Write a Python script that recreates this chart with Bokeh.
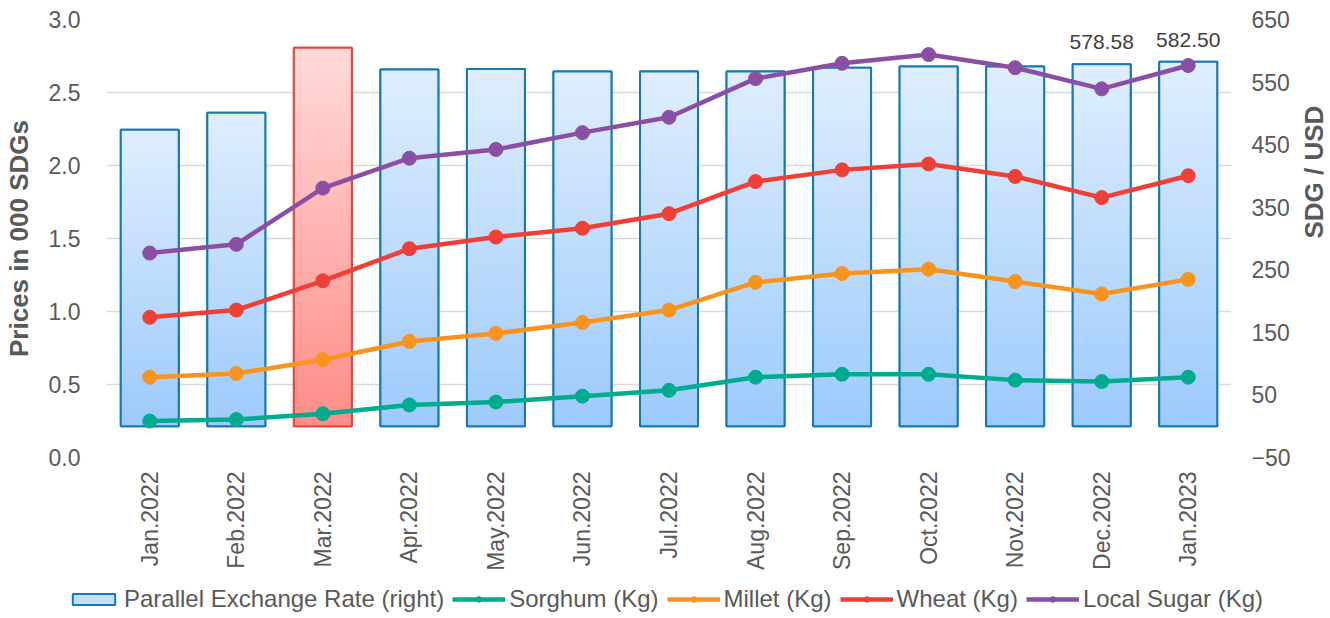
import numpy as np
from math import pi
from bokeh.plotting import figure
from bokeh.layouts import column
from bokeh.models import (Range1d, LinearAxis, Legend, LegendItem, FixedTicker,
                          PrintfTickFormatter)
from bokeh.core.properties import value
from bokeh.embed import file_html
from bokeh.resources import INLINE

months = ["Jan.2022", "Feb.2022", "Mar.2022", "Apr.2022", "May.2022", "Jun.2022", "Jul.2022",
          "Aug.2022", "Sep.2022", "Oct.2022", "Nov.2022", "Dec.2022", "Jan.2023"]
exchange_rate = [474, 501, 605, 570, 571, 567, 567, 567, 573, 575, 575, 578.58, 582.50]
sorghum = [0.25, 0.26, 0.30, 0.36, 0.38, 0.42, 0.46, 0.55, 0.57, 0.57, 0.53, 0.52, 0.55]
millet = [0.55, 0.575, 0.67, 0.795, 0.85, 0.925, 1.01, 1.20, 1.26, 1.29, 1.205, 1.12, 1.22]
wheat = [0.96, 1.01, 1.21, 1.43, 1.51, 1.57, 1.67, 1.89, 1.97, 2.01, 1.925, 1.78, 1.93]
sugar = [1.40, 1.46, 1.845, 2.05, 2.11, 2.225, 2.33, 2.595, 2.70, 2.76, 2.67, 2.525, 2.685]
left_ticks = [0.0, 0.5, 1.0, 1.5, 2.0, 2.5, 3.0]
right_ticks = [-50, 50, 150, 250, 350, 450, 550, 650]
highlight_month = "Mar.2022"
labelled_months = ["Dec.2022", "Jan.2023"]

FONT = "Liberation Sans"
GREY = "#595959"
BAR_LINE = "#1478B4"
BAR_FILL = "#C4DFFC"

p = figure(x_range=months, y_range=Range1d(0, 3.0), frame_width=1125, frame_height=438,
           output_backend="svg", toolbar_location=None,
           min_border_left=106, min_border_right=99, min_border_top=19, min_border_bottom=0)
p.extra_y_ranges = {"right": Range1d(-50, 650)}
p.outline_line_color = None
p.background_fill_color = "white"

outline_cols = ["#E8453C" if m == highlight_month else BAR_LINE for m in months]
p.vbar(x=months, width=0.67, bottom=0, top=exchange_rate, fill_color=BAR_FILL,
       line_color=outline_cols, line_width=2, y_range_name="right")

# gradient bars (slices computed from the data)
N = 60
blue_top, blue_bot = np.array([0xDF, 0xEE, 0xFE]), np.array([0x9C, 0xCA, 0xFB])
red_top, red_bot = np.array([0xFF, 0xDA, 0xDA]), np.array([0xFF, 0x8C, 0x88])
xs, bots, tops, cols = [], [], [], []
for m, r in zip(months, exchange_rate):
    ct, cb = (red_top, red_bot) if m == highlight_month else (blue_top, blue_bot)
    for k in range(N):
        f = (k + 0.5) / N
        c = cb + (ct - cb) * f
        xs.append(m)
        bots.append(r * k / N)
        tops.append(min(r, r * (k + 1.3) / N))
        cols.append("#%02x%02x%02x" % tuple(int(round(v)) for v in c))
p.vbar(x=xs, width=0.67, bottom=bots, top=tops, fill_color=cols, line_color=None,
       y_range_name="right")
p.vbar(x=months, width=0.67, bottom=0, top=exchange_rate, fill_color=None,
       line_color=outline_cols, line_width=2, y_range_name="right")

# data labels
lab_x = [m for m in months if m in labelled_months]
lab_y = [r for m, r in zip(months, exchange_rate) if m in labelled_months]
lab_t = ["%.2f" % r for m, r in zip(months, exchange_rate) if m in labelled_months]
p.text(x=lab_x, y=lab_y, text=lab_t, y_range_name="right", text_align="center",
       text_baseline="bottom", y_offset=-15, text_font=value(FONT), text_font_size="21px",
       text_color="#404040")

series = [("Sorghum (Kg)", sorghum, "#00AB8E"),
          ("Millet (Kg)", millet, "#F7941D"),
          ("Wheat (Kg)", wheat, "#EE4036"),
          ("Local Sugar (Kg)", sugar, "#8A4FA3")]
for name, vals, col in series:
    p.line(x=months, y=vals, line_color=col, line_width=4.5)
    p.scatter(x=months, y=vals, size=14, fill_color=col, line_color=col)

# axes
p.yaxis.ticker = FixedTicker(ticks=left_ticks)
p.yaxis.formatter = PrintfTickFormatter(format="%.1f")
p.yaxis.axis_label = "Prices in 000 SDGs"
ra = LinearAxis(y_range_name="right", ticker=FixedTicker(ticks=right_ticks),
                axis_label="SDG / USD")
p.add_layout(ra, "right")
for ax in [p.yaxis[0], ra]:
    ax.axis_line_color = None
    ax.major_tick_line_color = None
    ax.minor_tick_line_color = None
    ax.major_tick_out = 0
    ax.major_label_text_font = FONT
    ax.major_label_text_font_size = "23px"
    ax.major_label_text_color = GREY
    ax.axis_label_text_font = FONT
    ax.axis_label_text_font_size = "26px"
    ax.axis_label_text_font_style = "bold"
    ax.axis_label_text_color = GREY
p.yaxis[0].major_label_standoff = 26
p.yaxis[0].axis_label_standoff = 12
ra.major_label_standoff = 20
ra.axis_label_standoff = 20
if "axis_label_orientation" in ra.properties():
    ra.axis_label_orientation = pi / 2

p.xaxis.major_label_orientation = pi / 2
p.xaxis.axis_line_color = None
p.xaxis.major_tick_line_color = None
p.xaxis.major_tick_out = 0
p.xaxis.major_label_text_font = FONT
p.xaxis.major_label_text_font_size = "23px"
p.xaxis.major_label_text_color = GREY
p.xaxis.major_label_standoff = 14

p.xgrid.grid_line_color = None
p.ygrid.grid_line_color = "#D9D9D9"
p.ygrid.grid_line_width = 1.5

# legend strip: a separate small figure whose renderers lie below its visible range
lf = figure(x_range=months, y_range=Range1d(1000, 1001), frame_width=1330, frame_height=52,
            output_backend="svg", toolbar_location=None, min_border=0,
            x_axis_location=None, y_axis_location=None)
lf.outline_line_color = None
lf.grid.visible = False
items = []
lb = lf.vbar(x=months, width=0.67, bottom=0, top=exchange_rate, fill_color=BAR_FILL,
             line_color=BAR_LINE, line_width=2)
items.append(LegendItem(label="Parallel Exchange Rate (right)", renderers=[lb]))
for name, vals, col in series:
    l = lf.line(x=months, y=vals, line_color=col, line_width=4.5)
    s = lf.scatter(x=months, y=vals, size=14, fill_color=col, line_color=col)
    items.append(LegendItem(label=name, renderers=[l, s]))
legend = Legend(items=items, orientation="horizontal", location="center",
                label_text_font=FONT, label_text_font_size="24px", label_text_color=GREY,
                glyph_width=53, glyph_height=14, label_standoff=4, spacing=8,
                border_line_color=None, background_fill_alpha=0, padding=0, margin=0)
lf.add_layout(legend, "center")

layout = column(p, lf, spacing=0)
open("out.html", "w").write(file_html(layout, INLINE))
